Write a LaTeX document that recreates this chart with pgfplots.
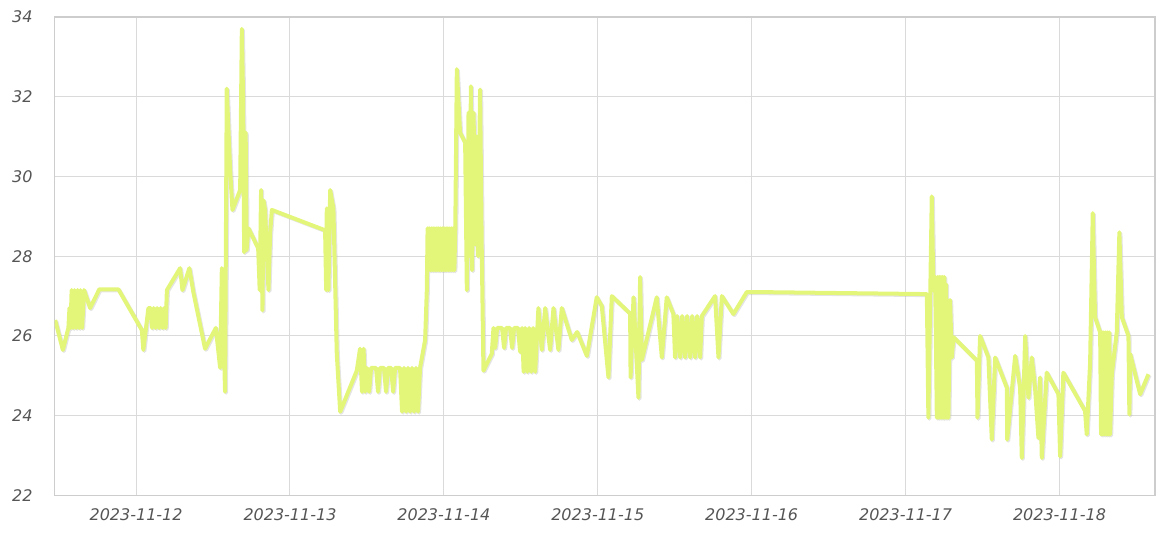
\documentclass[border=0pt]{standalone}
\usepackage{fontspec}
\setmainfont{DejaVu Sans}
\usepackage{pgfplots}
\usepackage{pgfplotstable}
\pgfplotsset{compat=1.18}

\definecolor{linecol}{RGB}{228,246,122}
\definecolor{gridcol}{RGB}{218,218,218}
\definecolor{framecol}{RGB}{205,205,205}
\definecolor{labcol}{RGB}{85,85,85}

% day of November 2023 (fractional), temperature
\pgfplotstableread{
d t
11.474 26.40
11.524 25.65
11.560 26.20
11.567 26.70
11.574 26.20
11.581 27.15
11.591 26.20
11.600 27.15
11.610 26.20
11.620 27.15
11.630 26.20
11.639 27.15
11.649 26.20
11.662 27.15
11.701 26.70
11.761 27.17
11.885 27.17
12.037 26.15
12.047 25.65
12.080 26.70
12.094 26.70
12.104 26.20
12.114 26.70
12.127 26.20
12.136 26.70
12.149 26.20
12.159 26.70
12.172 26.20
12.182 26.70
12.192 26.20
12.200 27.15
12.286 27.70
12.301 27.15
12.346 27.70
12.372 27.10
12.448 25.68
12.518 26.20
12.546 25.20
12.557 27.70
12.578 24.60
12.589 32.20
12.611 30.17
12.626 29.16
12.676 29.66
12.687 33.70
12.695 32.00
12.702 28.10
12.712 31.10
12.718 28.15
12.730 28.70
12.793 28.20
12.803 27.15
12.812 29.66
12.821 26.64
12.828 29.40
12.838 29.16
12.860 27.15
12.871 28.58
12.882 29.16
13.228 28.65
13.235 27.15
13.239 29.20
13.250 27.15
13.261 29.66
13.282 29.20
13.304 25.55
13.326 24.10
13.434 25.13
13.455 25.68
13.468 24.60
13.478 25.68
13.488 24.60
13.499 25.20
13.514 24.60
13.527 25.20
13.559 25.20
13.572 24.60
13.585 25.20
13.611 25.20
13.624 24.60
13.637 25.20
13.657 25.20
13.670 24.60
13.683 25.20
13.715 25.20
13.728 24.10
13.741 25.20
13.754 24.10
13.767 25.20
13.780 24.10
13.793 25.20
13.806 24.10
13.819 25.20
13.832 24.10
13.845 25.20
13.878 25.90
13.889 27.15
13.894 28.70
13.900 27.65
13.906 28.70
13.912 27.65
13.918 28.70
13.924 27.65
13.930 28.70
13.936 27.65
13.942 28.70
13.948 27.65
13.954 28.70
13.960 27.65
13.966 28.70
13.972 27.65
13.978 28.70
13.984 27.65
13.990 28.70
13.996 27.65
14.002 28.70
14.008 27.65
14.014 28.70
14.020 27.65
14.026 28.70
14.032 27.65
14.038 28.70
14.044 27.65
14.050 28.70
14.056 27.65
14.062 28.70
14.068 27.65
14.074 28.70
14.084 32.69
14.105 31.10
14.138 30.85
14.149 27.15
14.160 31.60
14.170 28.00
14.175 32.26
14.183 27.65
14.193 31.60
14.203 28.30
14.213 31.00
14.222 28.00
14.235 32.18
14.246 28.15
14.257 25.13
14.311 25.55
14.322 26.20
14.333 25.70
14.346 26.20
14.378 26.20
14.391 25.70
14.404 26.20
14.430 26.20
14.443 25.70
14.456 26.20
14.482 26.20
14.495 25.60
14.508 26.20
14.518 25.10
14.528 26.20
14.541 25.10
14.554 26.20
14.567 25.10
14.580 26.20
14.593 25.10
14.614 26.70
14.636 25.65
14.658 26.70
14.690 25.65
14.712 26.70
14.744 25.65
14.766 26.70
14.831 25.90
14.866 26.10
14.929 25.50
14.993 26.97
15.026 26.75
15.069 24.96
15.091 27.00
15.210 26.56
15.213 24.96
15.232 26.97
15.264 24.45
15.275 27.48
15.286 25.40
15.383 26.97
15.416 25.46
15.448 26.97
15.491 26.55
15.502 25.46
15.515 26.50
15.535 25.46
15.548 26.50
15.567 25.46
15.580 26.50
15.600 25.46
15.613 26.50
15.632 25.46
15.645 26.50
15.665 25.46
15.676 26.50
15.762 27.00
15.784 25.46
15.806 27.00
15.881 26.55
15.968 27.10
16.055 27.10
17.138 27.05
17.148 23.95
17.170 29.50
17.181 27.14
17.192 27.48
17.203 23.95
17.208 27.48
17.213 23.95
17.219 27.48
17.224 23.95
17.230 27.48
17.235 23.95
17.241 27.48
17.246 23.95
17.252 27.48
17.257 23.95
17.263 27.30
17.268 23.95
17.273 26.90
17.278 23.95
17.289 26.90
17.300 25.46
17.311 25.97
17.463 25.38
17.467 23.95
17.484 26.00
17.538 25.46
17.560 23.40
17.582 25.46
17.658 24.70
17.660 23.40
17.712 25.50
17.744 24.70
17.755 22.94
17.777 26.00
17.798 24.45
17.820 25.46
17.841 24.70
17.863 23.44
17.874 24.96
17.885 22.94
17.917 25.08
17.993 24.54
18.004 22.98
18.025 25.08
18.166 24.12
18.177 23.53
18.199 25.34
18.216 29.08
18.231 26.47
18.264 26.09
18.270 23.53
18.276 26.09
18.282 23.53
18.288 26.09
18.294 23.53
18.300 26.09
18.306 23.53
18.312 26.09
18.318 23.53
18.324 26.09
18.329 23.53
18.340 25.04
18.372 26.09
18.389 28.60
18.405 26.47
18.448 26.00
18.454 24.03
18.459 25.55
18.524 24.54
18.578 25.04
}\temps

\begin{document}
\begin{tikzpicture}
\begin{axis}[
    at={(0,0)}, anchor=south west,
    scale only axis,
    width=825.4pt, height=358.9pt,
    xmin=11.470, xmax=18.621,
    ymin=22, ymax=34,
    xtick={12,13,14,15,16,17,18},
    xticklabels={2023-11-12,2023-11-13,2023-11-14,2023-11-15,2023-11-16,2023-11-17,2023-11-18},
    ytick={22,24,...,34},
    grid=major,
    major grid style={gridcol, line width=0.75pt},
    axis line style={framecol, line width=1pt},
    tick style={draw=none},
    /pgf/number format/assume math mode=true,
    ticklabel style={font=\itshape\fontsize{12}{14}\selectfont, text=labcol},
    xticklabel style={yshift=-6.5pt},
    yticklabel style={xshift=-13pt},
]
\addplot[black!30, opacity=0.35, line width=3pt, line join=round, xshift=0.8pt, yshift=-0.8pt] table[x=d, y=t] {\temps};
\addplot[linecol, line width=3pt, line join=round] table[x=d, y=t] {\temps};
\end{axis}
\pgfresetboundingbox
\path (-40.9pt,-31.1pt) rectangle (838.1pt,371.6pt);
\end{tikzpicture}
\end{document}
